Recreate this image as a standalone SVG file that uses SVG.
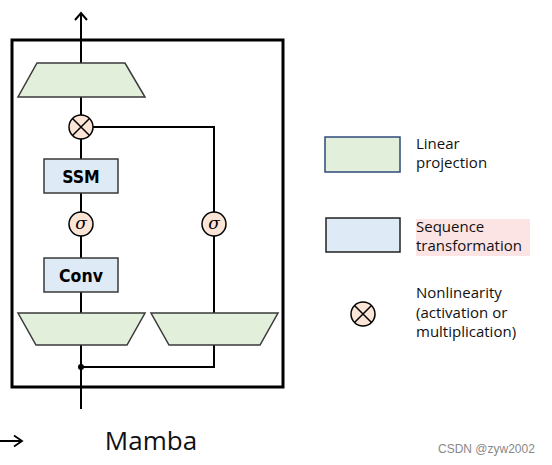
<svg xmlns="http://www.w3.org/2000/svg" width="552" height="465" viewBox="0 0 552 465">
<style>
.lin{fill:#e2efda;stroke:#3a3a3a;stroke-width:1.5}
.seq{fill:#deebf7;stroke:#3a3a3a;stroke-width:1.5}
.nl{fill:#fbe5d6;stroke:#000;stroke-width:1.5}
.wire{fill:none;stroke:#000;stroke-width:2}
.lbl{font-family:"DejaVu Sans Condensed","DejaVu Sans",sans-serif;font-weight:bold;font-size:17.5px;fill:#000;text-anchor:middle}
.sig{font-family:"DejaVu Serif","Liberation Serif",serif;font-style:italic;font-size:17px;fill:#000;text-anchor:middle}
.leg{font-family:"Open Sans","Noto Sans",sans-serif;font-size:15px;fill:#111}
</style>
<rect x="0" y="0" width="552" height="465" fill="#fff"/>
<rect id="block" x="12" y="40" width="271" height="347" fill="none" stroke="#000" stroke-width="3"/>
<g id="connectors">
<line class="wire" x1="81" y1="409" x2="81" y2="14"/>
<path class="wire" d="M75,20 L81,13 L87,20"/>
<polyline class="wire" points="93,127 214,127 214,313"/>
<polyline class="wire" points="81,367 214,367 214,345"/>
<circle cx="81" cy="367" r="3" fill="#000"/>
</g>
<g id="proj_out"><polygon class="lin" points="37,63 125,63 145,97 18,97"/></g>
<g id="mult"><circle class="nl" cx="81" cy="127" r="12"/><path d="M72.5,118.5 L89.5,135.5 M89.5,118.5 L72.5,135.5" stroke="#000" stroke-width="1.5"/></g>
<g id="ssm"><rect class="seq" x="44" y="159" width="74" height="34"/><text class="lbl" x="81" y="182.5">SSM</text></g>
<g id="sigma1"><circle class="nl" cx="81" cy="224" r="12"/><text class="sig" x="81" y="229">σ</text></g>
<g id="sigma2"><circle class="nl" cx="214" cy="224" r="12"/><text class="sig" x="214" y="229">σ</text></g>
<g id="conv"><rect class="seq" x="44" y="258" width="74" height="34"/><text class="lbl" x="81" y="281.5">Conv</text></g>
<g id="proj_in_left"><polygon class="lin" points="18,313 145,313 127,345 36,345"/></g>
<g id="proj_in_right"><polygon class="lin" points="151,313 278,313 260,345 169,345"/></g>
<g id="title">
<path d="M0,441 L21,441 M14,435.5 L22,441 L14,446.5" fill="none" stroke="#000" stroke-width="1.8"/>
<text x="151" y="450" font-family="Open Sans,Noto Sans,sans-serif" font-size="26" text-anchor="middle" fill="#111">Mamba</text>
</g>
<g id="legend">
<rect x="325" y="137" width="75" height="35" fill="#e2efda" stroke="#2f4a7a" stroke-width="1.5"/>
<text class="leg" x="416" y="149">Linear</text>
<text class="leg" x="416" y="168">projection</text>
<rect x="326" y="218" width="74" height="34" fill="#deebf7" stroke="#222" stroke-width="1.5"/>
<rect x="416" y="219" width="114" height="37" fill="#fce4e4"/>
<text class="leg" x="416" y="232">Sequence</text>
<text class="leg" x="416" y="251">transformation</text>
<circle class="nl" cx="363" cy="314" r="12"/>
<path d="M354.5,305.5 L371.5,322.5 M371.5,305.5 L354.5,322.5" stroke="#000" stroke-width="1.5"/>
<text class="leg" x="416" y="298">Nonlinearity</text>
<text class="leg" x="416" y="318">(activation or</text>
<text class="leg" x="416" y="337">multiplication)</text>
</g>
<text x="438" y="453" font-family="Liberation Sans,Arial,sans-serif" font-size="12" fill="#888">CSDN @zyw2002</text>
</svg>
